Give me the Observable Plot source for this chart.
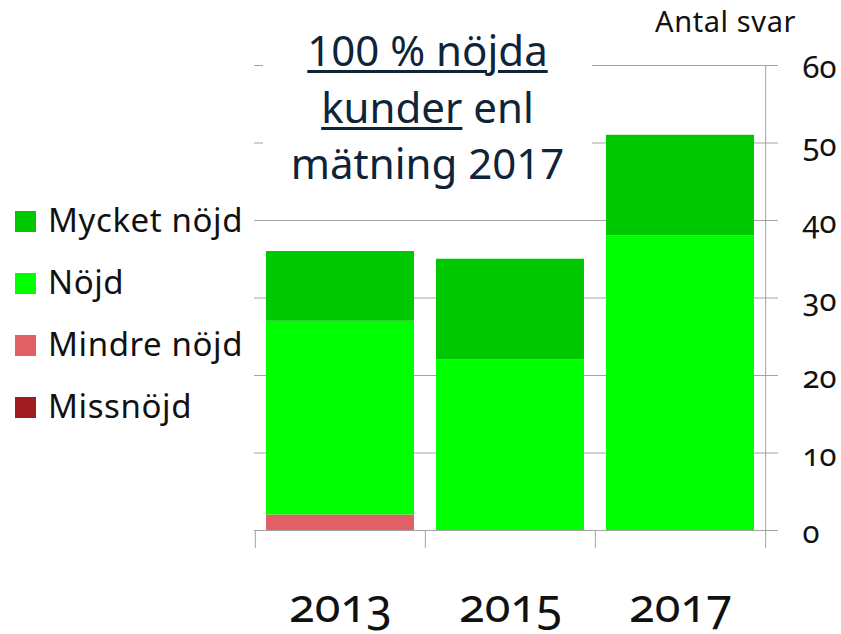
<!DOCTYPE html>
<html><head><meta charset="utf-8">
<script src="https://cdn.jsdelivr.net/npm/d3@7"></script>
<script src="https://cdn.jsdelivr.net/npm/@observablehq/plot@0.6"></script>
<style>
body{margin:0;background:#fff;font-family:"Noto Sans",sans-serif;}
#wrap{position:relative;width:841px;height:634px;overflow:hidden;background:#fff}
#chart{position:absolute;left:0;top:0}
#chart svg text{font-variant-numeric:oldstyle-nums;font-feature-settings:"onum" 1;}
#title{position:absolute;left:263px;top:22px;width:329px;background:#fff;text-align:center;
  font-size:42px;line-height:56.5px;color:#0F2439;}
#title .u{text-decoration:underline;text-decoration-thickness:2.5px;text-underline-offset:4px;}
#unit{position:absolute;left:655px;top:7px;font-size:29px;line-height:28px;letter-spacing:0.6px;color:#111;white-space:nowrap;}
.lg{position:absolute;left:0;}
.lg .sw{position:absolute;left:15px;width:21px;height:21px;}
.lg .tx{position:absolute;left:48px;font-size:33px;line-height:32px;letter-spacing:0.6px;color:#111;white-space:nowrap;}
</style></head>
<body>
<div id="wrap">
  <div id="chart"></div>
  <div id="title"><span class="u">100 % nöjda</span><br><span class="u">kunder</span> enl<br>mätning 2017</div>
  <div id="unit">Antal svar</div>
  <div id="legend"></div>
</div>
<script>
const years = ["2013", "2015", "2017"];
const categories = ["Mycket nöjd", "Nöjd", "Mindre nöjd", "Missnöjd"];
const colors = ["#00C800", "#00FF00", "#E06066", "#A01C20"];
const mycketNojd = [9, 13, 13];
const nojd = [25, 22, 38];
const mindreNojd = [2, 0, 0];
const missnojd = [0, 0, 0];
const yTicks = [0, 10, 20, 30, 40, 50, 60];

// rows in stacking order, bottom to top
const series = {"Missnöjd": missnojd, "Mindre nöjd": mindreNojd, "Nöjd": nojd, "Mycket nöjd": mycketNojd};
const rows = [];
for (const cat of ["Missnöjd", "Mindre nöjd", "Nöjd", "Mycket nöjd"]) {
  years.forEach((yr, i) => rows.push({year: yr, category: cat, value: series[cat][i]}));
}

const W = 841, H = 634, mL = 254, mR = 76, mT = 65, mB = 104;
const step = (W - mL - mR) / years.length;
const grey = "#A3A3A3";

const chart = Plot.plot({
  width: W, height: H,
  marginLeft: mL, marginRight: mR, marginTop: mT, marginBottom: mB,
  style: {fontFamily: "Noto Sans", background: "white", color: "#111"},
  x: {domain: years, paddingInner: 0.13, paddingOuter: 0.065, axis: null},
  y: {domain: [0, 60], axis: null},
  color: {domain: categories, range: colors},
  marks: [
    Plot.ruleY(yTicks, {stroke: grey, strokeWidth: 1, insetRight: -13}),
    Plot.barY(rows, {x: "year", y: "value", fill: "category"}),
    Plot.ruleX(years, {x: d => d, dx: -step / 2, y1: 0, y2: 0, insetBottom: -18, stroke: grey}),
    Plot.ruleX([years[years.length - 1]], {x: d => d, dx: step / 2, y1: 60, y2: 0, insetBottom: -18, stroke: grey}),
    Plot.axisY(yTicks, {anchor: "right", label: null, tickSize: 0, tickPadding: 37, fontSize: 31, dy: 3, fill: "#111"}),
    Plot.text(years, {x: d => d, y: 0, dy: 91, lineAnchor: "bottom", fontSize: 47, fill: "#111"})
  ]
});
document.getElementById("chart").appendChild(chart);

const lg = document.getElementById("legend");
categories.forEach((c, i) => {
  const row = document.createElement("div");
  row.className = "lg";
  row.innerHTML = `<div class="sw" style="top:${211 + i * 62}px;background:${colors[i]}"></div>` +
    `<div class="tx" style="top:${204 + i * 62}px">${c}</div>`;
  lg.appendChild(row);
});
</script>
</body></html>
